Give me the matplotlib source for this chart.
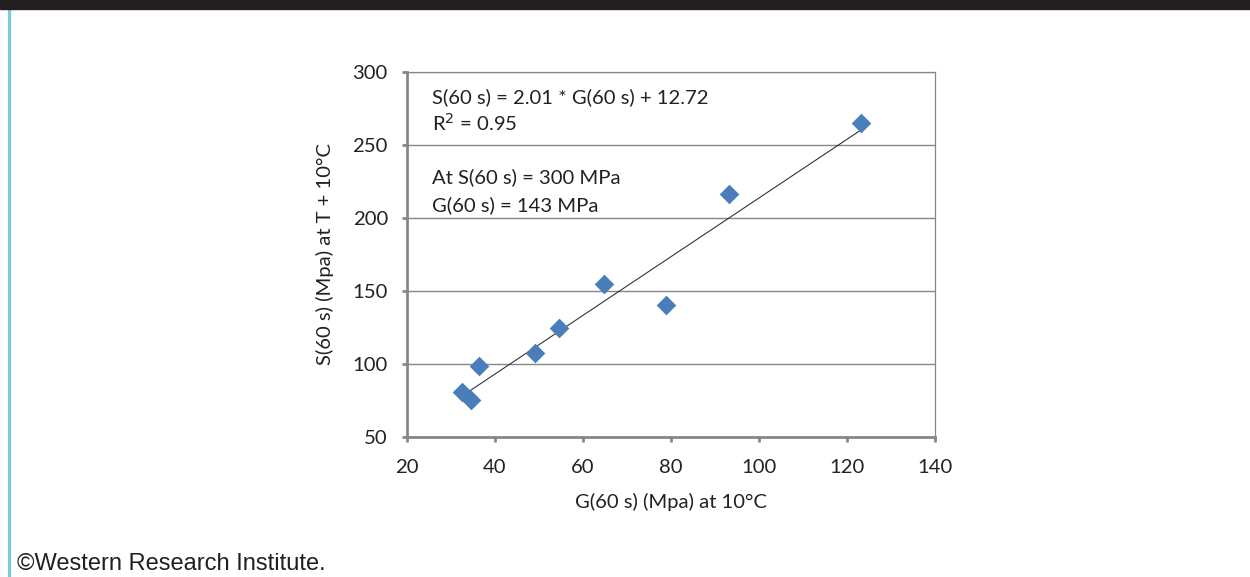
import matplotlib
matplotlib.use("Agg")
import matplotlib.pyplot as plt
from matplotlib.lines import Line2D

# G(60 s) at 10C vs S(60 s) at T + 10C
g60 = [32.4, 34.5, 36.4, 49.2, 54.5, 64.8, 78.9, 93.2, 123.2]
s60 = [81.0, 75.3, 98.8, 107.8, 124.7, 154.8, 140.4, 216.4, 265.1]
slope = 2.01
intercept = 12.72
xticks = [20, 40, 60, 80, 100, 120, 140]
yticks = [50, 100, 150, 200, 250, 300]

plt.rcParams['font.family'] = ['Lato', 'DejaVu Sans']
grey = '#878787'
blue = '#4a7ebb'
fs = 14.6

fig = plt.figure(figsize=(12.5, 5.77), dpi=100)
ax = fig.add_axes([407/1250, 1-437/577, (935-407)/1250, (437-72)/577])

ax.scatter(g60, s60, marker='D', s=10**2, color=blue, linewidths=0, zorder=3)
x0, x1 = min(g60), max(g60)
ax.plot([x0, x1], [slope*x0+intercept, slope*x1+intercept], color='#333333', lw=0.8, zorder=2)

ax.set_xlim(20, 140)
ax.set_ylim(50, 300)
ax.set_xticks(xticks)
ax.set_yticks(yticks)
ax.yaxis.grid(True, color=grey, lw=1)
ax.set_axisbelow(True)
for side in ['top', 'right']:
    ax.spines[side].set_color(grey)
    ax.spines[side].set_linewidth(0.9)
for side in ['left', 'bottom']:
    ax.spines[side].set_color(grey)
    ax.spines[side].set_linewidth(2)
ax.tick_params(direction='out', length=3.8, width=2, color=grey, labelsize=fs,
               labelcolor='#222222')
ax.tick_params(axis='x', pad=12)
ax.tick_params(axis='y', pad=10)

ax.set_xlabel('G(60 s) (Mpa) at 10°C', fontsize=fs, color='#222222', labelpad=12)
ax.set_ylabel('S(60 s) (Mpa) at T + 10°C', fontsize=fs, color='#222222', labelpad=13)

tx = 20 + (432-407)/4.4
ax.text(tx, 50 + (437-97)/1.46, 'S(60 s) = 2.01 * G(60 s) + 12.72', fontsize=fs,
        va='center', color='#222222')
ax.text(tx, 50 + (437-123)/1.46, 'R$^2$ = 0.95', fontsize=fs, va='center', color='#222222')
ax.text(tx, 50 + (437-177)/1.46, 'At S(60 s) = 300 MPa', fontsize=fs, va='center', color='#222222')
ax.text(tx, 50 + (437-205)/1.46, 'G(60 s) = 143 MPa', fontsize=fs, va='center', color='#222222')

# page decorations: dark band on top, teal rule on the left, credit line
fig.patches.append(plt.Rectangle((0, 1-9/577), 1, 9/577, transform=fig.transFigure,
                                 color='#231f20', zorder=5))
fig.lines.append(Line2D([8.5/1250, 8.5/1250], [0, 1-9/577], transform=fig.transFigure,
                        color='#7ecbd8', lw=2.3))
fig.text(17/1250, 1-564/577, '©Western Research Institute.', fontsize=17,
         family='Liberation Sans', va='center', color='#231f20')

fig.savefig('out.png', dpi=100)
